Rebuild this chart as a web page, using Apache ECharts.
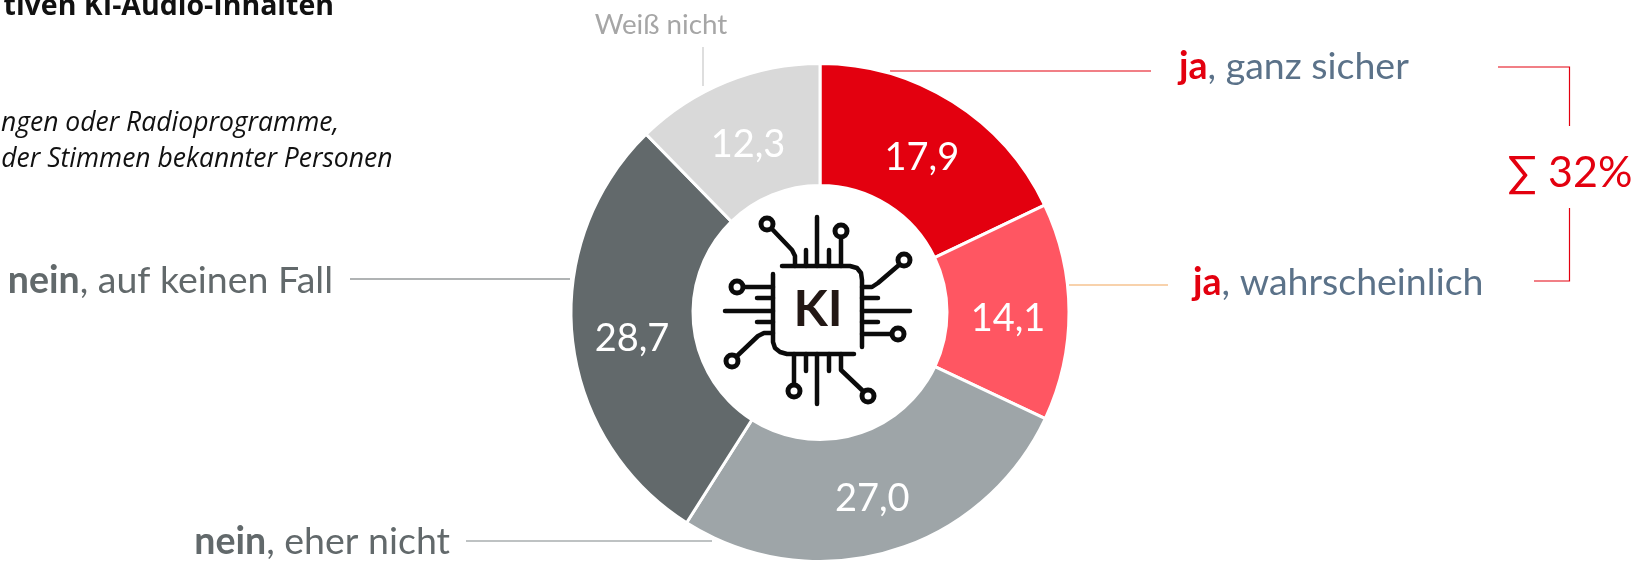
<!DOCTYPE html>
<html>
<head>
<meta charset="utf-8">
<title>KI-Audio-Inhalte</title>
<script src="https://cdn.jsdelivr.net/npm/echarts@6/dist/echarts.min.js"></script>
<style>
  html, body { margin: 0; padding: 0; background: #fff; overflow: hidden; }
  #chart { width: 1646px; height: 565px; }
</style>
</head>
<body>
<div id="chart"></div>
<script>
var categories = ['ja, ganz sicher', 'ja, wahrscheinlich', 'nein, eher nicht', 'nein, auf keinen Fall', 'Weiß nicht'];
var values = [17.9, 14.1, 27.0, 28.7, 12.3];
var sliceColors = ['#E3000F', '#FF5662', '#9EA5A8', '#62696B', '#D9D9D9'];

var titleText = 'tiven KI-Audio-Inhalten';
var noteLines = ['ngen oder Radioprogramme,', 'der Stimmen bekannter Personen'];
var sumText = '∑ 32%';

var labelFont = 'Lato, "Open Sans", sans-serif';
var noteFont = '"Open Sans", "Noto Sans", sans-serif';
var red = '#E3000F', slate = '#5B7289', dark = '#62696B';

// kleine Korrektur der Zahlen im Ring
var labelOffsets = [[0, 7], [-3, 7], [-1, 3], [2, 6], [0, 9]];

function lineEl(points, color) {
  return {
    type: 'polyline', silent: true,
    shape: { points: points },
    style: { stroke: color, lineWidth: 1.2, fill: null }
  };
}

function textEl(x, y, text, align, font, color, rich) {
  return {
    type: 'text', silent: true, x: x, y: y,
    style: {
      text: text, font: font, fill: color,
      align: align, verticalAlign: 'middle', rich: rich
    }
  };
}

// ja / nein Beschriftung: erstes Wort fett
function richLabel(x, y, word, rest, align, wordColor, restColor) {
  var rich = {
    b: { font: 'bold 37.5px ' + labelFont, fill: wordColor },
    n: { font: '37.5px ' + labelFont, fill: restColor }
  };
  return textEl(x, y, '{b|' + word + '}{n|' + rest + '}', align, '37.5px ' + labelFont, restColor, rich);
}

// KI Chip Symbol
function chipIcon() {
  var wires = [
    [[102, 76], [170, 76], [177, 78], [181, 83], [182, 90], [182, 157]],
    [[93, 84], [93, 152], [95, 158], [100, 162], [107, 164], [174, 164]],
    [[137, 27], [137, 76]], [[126, 60], [126, 76]], [[149, 60], [149, 76]],
    [[161, 48], [161, 76]], [[92, 39], [112, 60], [115, 66], [115, 76]],
    [[182, 121], [230, 121]], [[182, 108], [198, 108]], [[182, 132], [198, 132]],
    [[219, 75], [198, 93], [192, 97], [182, 97]], [[182, 144], [211, 144]],
    [[45, 121], [93, 121]], [[77, 108], [93, 108]], [[77, 132], [93, 132]],
    [[64, 97], [93, 97]], [[57, 166], [78, 146], [84, 143], [93, 143]],
    [[137, 164], [137, 214]], [[126, 164], [126, 181]], [[149, 164], [149, 181]],
    [[114, 164], [114, 194]], [[161, 164], [161, 180], [183, 201]]
  ];
  var nodes = [[87, 34], [161, 41], [224, 70], [218, 144], [57, 97], [52, 171], [114, 201], [188, 206]];
  var children = [];
  wires.forEach(function(w) {
    children.push({
      type: 'polyline', silent: true,
      shape: { points: w },
      style: { stroke: '#0b0b0b', lineWidth: 4.5, lineCap: 'round', lineJoin: 'round', fill: null }
    });
  });
  nodes.forEach(function(n) {
    children.push({
      type: 'circle', silent: true,
      shape: { cx: n[0], cy: n[1], r: 6 },
      style: { stroke: '#0b0b0b', lineWidth: 5, fill: '#fff' }
    });
  });
  children.push(textEl(138, 120, 'KI', 'center', 'bold 50px ' + labelFont, '#231815'));
  return { type: 'group', x: 680, y: 190, silent: true, children: children };
}

var chart = echarts.init(document.getElementById('chart'));

chart.setOption({
  animation: false,
  backgroundColor: '#fff',
  series: [{
    type: 'pie',
    center: [820, 312.5],
    radius: [127, 249],
    startAngle: 90,
    clockwise: true,
    silent: true,
    itemStyle: { borderColor: '#fff', borderWidth: 3 },
    label: {
      position: 'inside',
      color: '#fff',
      fontFamily: labelFont,
      fontSize: 38,
      formatter: function(p) { return p.value.toFixed(1).replace('.', ','); }
    },
    labelLine: { show: false },
    data: categories.map(function(name, i) {
      return {
        name: name,
        value: values[i],
        itemStyle: { color: sliceColors[i] },
        label: { offset: labelOffsets[i] }
      };
    })
  }],
  graphic: { elements: [
    textEl(334, 7, titleText, 'right', 'bold 28.5px ' + noteFont, '#111'),
    textEl(339, 123, noteLines[0], 'right', 'italic 26.5px ' + noteFont, '#111'),
    textEl(392.5, 159, noteLines[1], 'right', 'italic 26.5px ' + noteFont, '#111'),

    lineEl([[890, 71], [1151, 71]], red),
    lineEl([[1069, 285], [1168, 285]], '#F2A65A'),
    lineEl([[350, 279], [570, 279]], dark),
    lineEl([[466, 541], [712, 541]], '#7f8588'),
    lineEl([[703, 47], [703, 86]], '#c8c8c8'),
    lineEl([[1498, 67], [1569.5, 67], [1569.5, 126]], red),
    lineEl([[1569.5, 208], [1569.5, 281], [1534, 281]], red),

    richLabel(1179, 67, 'ja', ', ganz sicher', 'left', red, slate),
    richLabel(1193, 283, 'ja', ', wahrscheinlich', 'left', red, slate),
    richLabel(333, 281, 'nein', ', auf keinen Fall', 'right', dark, dark),
    richLabel(450, 542, 'nein', ', eher nicht', 'right', dark, dark),
    textEl(661, 25, 'Weiß nicht', 'center', '27.8px ' + labelFont, '#A6A6A6'),
    textEl(1570, 173, sumText, 'center', '43px ' + labelFont, red),

    chipIcon()
  ] }
});
</script>
</body>
</html>
